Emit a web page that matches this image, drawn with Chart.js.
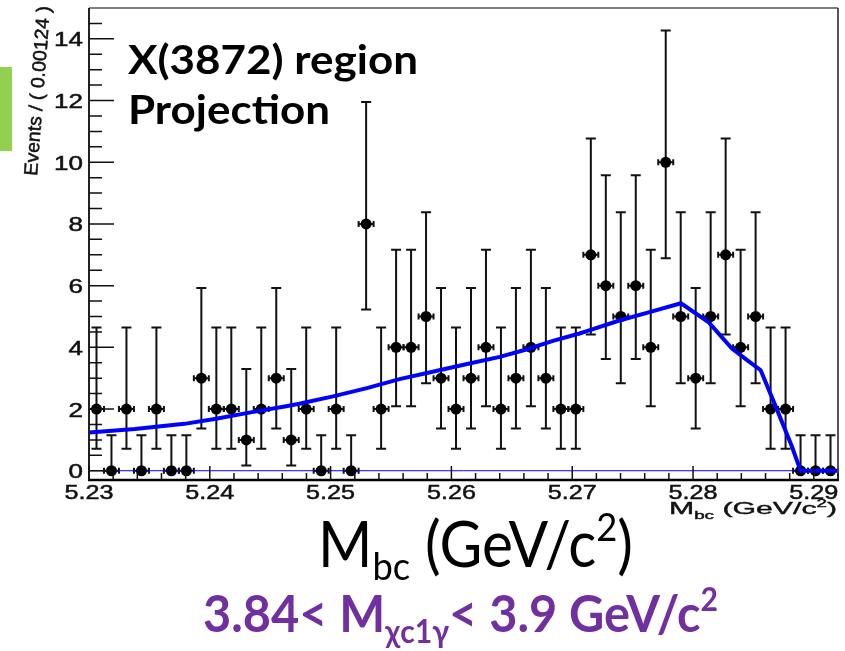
<!DOCTYPE html>
<html>
<head>
<meta charset="utf-8">
<script src="https://cdn.jsdelivr.net/npm/chart.js@4/dist/chart.umd.min.js"></script>
<style>
  html, body { margin: 0; padding: 0; background: #ffffff; }
  canvas { display: block; }
</style>
</head>
<body>
<canvas id="c" width="845" height="651"></canvas>
<script>
// Histogram binning of M_bc (GeV/c^2)
const binStart = 5.23;
const binWidth = 0.00124;

// Events per bin
const counts = [2, 0, 2, 0, 2, 0, 0, 3, 2, 2,
                1, 2, 3, 1, 2, 0, 2, 0, 8, 2,
                4, 4, 5, 3, 2, 3, 4, 2, 3, 4,
                3, 2, 2, 7, 6, 5, 6, 4, 10, 5,
                3, 5, 7, 4, 5, 2, 2, 0, 0, 0];

// Asymmetric Poisson interval bounds, indexed by the bin count
const intervalLow  = [0.00, 0.17, 0.71, 1.37, 2.09, 2.84, 3.62, 4.42, 5.23, 6.05, 6.89];
const intervalHigh = [1.15, 3.30, 4.64, 5.92, 7.16, 8.38, 9.58, 10.77, 11.95, 13.11, 14.27];

// Fitted model projection
const fitX = [5.2300, 5.2338, 5.2379, 5.2404, 5.2435, 5.2462, 5.2474, 5.2502, 5.2530, 5.2557,
              5.2590, 5.2612, 5.2640, 5.2662, 5.2684, 5.2706, 5.2714, 5.2739, 5.2764, 5.2790,
              5.2813, 5.2832, 5.2845, 5.2856, 5.2869, 5.2882, 5.2889, 5.2920];
const fitY = [1.24, 1.35, 1.52, 1.68, 1.90, 2.08, 2.17, 2.41, 2.68, 2.97,
              3.26, 3.45, 3.69, 3.93, 4.21, 4.45, 4.55, 4.87, 5.14, 5.43,
              4.81, 3.97, 3.58, 3.26, 2.03, 0.77, 0.00, 0.00];

// Axis ticks
const xTickLabels = ['5.23', '5.24', '5.25', '5.26', '5.27', '5.28', '5.29'];
const yTickLabels = ['0', '2', '4', '6', '8', '10', '12', '14'];

const xMin = 5.23, xMax = 5.292;
const yMin = -0.3, yMax = 15;

const binCenters = counts.map((_, i) => binStart + (i + 0.5) * binWidth);

const SANS = '"Liberation Sans", Arial, sans-serif';
const HUMANIST = 'Lato, "Open Sans", sans-serif';

// Draws a run of text pieces (normal / subscript / superscript), squeezed to a width
function drawRich(ctx, segs, x, baseline, size, family, weight, color, width, align, outline) {
  let total = 0;
  const small = size * 0.62;
  segs.forEach(s => {
    const sz = (s.sub || s.sup) ? small : size;
    ctx.font = `${weight} ${sz}px ${family}`;
    s.w = ctx.measureText(s.t).width;
    total += s.w;
  });
  const sx = width ? width / total : 1;
  const drawn = total * sx;
  let left = x;
  if (align === 'right') left = x - drawn;
  else if (align === 'center') left = x - drawn / 2;
  ctx.save();
  ctx.translate(left, baseline);
  ctx.scale(sx, 1);
  ctx.fillStyle = color;
  ctx.strokeStyle = color;
  ctx.lineWidth = outline || 0;
  ctx.textBaseline = 'alphabetic';
  ctx.textAlign = 'left';
  let cx = 0;
  segs.forEach(s => {
    const sz = (s.sub || s.sup) ? small : size;
    ctx.font = `${weight} ${sz}px ${family}`;
    let dy = 0;
    if (s.sub) dy = size * (s.subShift || 0.22);
    if (s.sup) dy = -size * 0.42;
    ctx.fillText(s.t, cx, dy);
    if (outline) ctx.strokeText(s.t, cx, dy);
    cx += s.w;
  });
  ctx.restore();
}

// Single text run widened by a fixed horizontal factor
function drawWide(ctx, text, x, baseline, size, sx, align, color) {
  ctx.save();
  ctx.font = `${size}px ${SANS}`;
  const w = ctx.measureText(text).width * sx;
  let left = x;
  if (align === 'right') left = x - w;
  else if (align === 'center') left = x - w / 2;
  ctx.translate(left, baseline);
  ctx.scale(sx, 1);
  ctx.fillStyle = color;
  ctx.strokeStyle = color;
  ctx.lineWidth = 0.5;
  ctx.textAlign = 'left';
  ctx.textBaseline = 'alphabetic';
  ctx.fillText(text, 0, 0);
  ctx.strokeText(text, 0, 0);
  ctx.restore();
}

const errorBars = {
  id: 'errorBars',
  beforeDatasetsDraw(chart) {
    const ctx = chart.ctx;
    const xs = chart.scales.x, ys = chart.scales.y;
    const half = xs.getPixelForValue(binStart + binWidth) - xs.getPixelForValue(binStart);
    ctx.save();
    ctx.strokeStyle = '#111111';
    ctx.lineWidth = 2;
    counts.forEach((n, i) => {
      const px = xs.getPixelForValue(binCenters[i]);
      const py = ys.getPixelForValue(n);
      const lo = ys.getPixelForValue(intervalLow[n]);
      const hi = ys.getPixelForValue(intervalHigh[n]);
      ctx.beginPath();
      ctx.moveTo(px, lo); ctx.lineTo(px, hi);
      ctx.moveTo(px - 5, hi); ctx.lineTo(px + 5, hi);
      if (n > 0) { ctx.moveTo(px - 5, lo); ctx.lineTo(px + 5, lo); }
      // horizontal bin-width bar
      const hw = half / 2;
      ctx.moveTo(px - hw, py); ctx.lineTo(px + hw, py);
      ctx.moveTo(px + hw, py - 3); ctx.lineTo(px + hw, py + 3);
      ctx.moveTo(px - hw, py - 3); ctx.lineTo(px - hw, py + 3);
      ctx.stroke();
    });
    ctx.restore();
  }
};

const frameAndText = {
  id: 'frameAndText',
  afterDatasetsDraw(chart) {
    const ctx = chart.ctx;
    const xs = chart.scales.x, ys = chart.scales.y;
    const a = chart.chartArea;
    ctx.save();

    // frame
    ctx.strokeStyle = '#555555';
    ctx.lineWidth = 1.4;
    ctx.beginPath();
    ctx.moveTo(a.left, a.top); ctx.lineTo(a.right, a.top);
    ctx.stroke();
    ctx.lineWidth = 1.8;
    ctx.strokeStyle = '#444444';
    ctx.beginPath();
    ctx.moveTo(a.right, a.top); ctx.lineTo(a.right, a.bottom);
    ctx.stroke();
    ctx.strokeStyle = '#222222';
    ctx.lineWidth = 2;
    ctx.beginPath();
    ctx.moveTo(a.left, a.top); ctx.lineTo(a.left, a.bottom);
    ctx.stroke();
    ctx.strokeStyle = '#000000';
    ctx.lineWidth = 2.4;
    ctx.beginPath();
    ctx.moveTo(a.left - 1, a.bottom); ctx.lineTo(a.right + 1, a.bottom);
    ctx.stroke();

    // y ticks: major every 2, minor every 0.5
    ctx.strokeStyle = '#111111';
    ctx.lineWidth = 1.5;
    ctx.beginPath();
    for (let k = 0; k <= 29; k++) {
      const v = k * 0.5;
      const py = ys.getPixelForValue(v);
      const len = (k % 4 === 0) ? 25 : 13;
      ctx.moveTo(a.left, py); ctx.lineTo(a.left + len, py);
    }
    // x ticks: major every 0.01, minor every 0.002
    for (let k = 0; k <= 31; k++) {
      const v = 5.23 + k * 0.002;
      const px = xs.getPixelForValue(v);
      const len = (k % 5 === 0) ? 14 : 7;
      ctx.moveTo(px, a.bottom); ctx.lineTo(px, a.bottom - len);
    }
    ctx.stroke();

    // tick labels
    yTickLabels.forEach(l => {
      drawWide(ctx, l, a.left - 6, ys.getPixelForValue(parseFloat(l)) + 7.5, 20, 1.3, 'right', '#111111');
    });
    xTickLabels.forEach(l => {
      drawWide(ctx, l, xs.getPixelForValue(parseFloat(l)), a.bottom + 19, 21, 1.2, 'center', '#111111');
    });

    // y axis title (slightly tilted)
    ctx.save();
    ctx.translate(37, 176);
    ctx.rotate(-85.6 * Math.PI / 180);
    drawRich(ctx, [{ t: 'Events / ( 0.00124 )' }], 0, 0, 19, SANS, 'normal', '#111111', 170, 'left', 0.5);
    ctx.restore();

    // small x axis title
    drawRich(ctx, [{ t: 'M' }, { t: 'bc', sub: true, subShift: 0.3 }, { t: ' (GeV/c' }, { t: '2', sup: true }, { t: ')' }],
      837, a.bottom + 34, 17, SANS, 'normal', '#111111', 168, 'right', 0.4);

    // annotation inside the frame
    drawRich(ctx, [{ t: 'X(3872) region' }], 128, 74, 40, HUMANIST, 'bold', '#000000', 290, 'left');
    drawRich(ctx, [{ t: 'Projection' }], 128, 124, 40, HUMANIST, 'bold', '#000000', 202, 'left');

    // large x axis caption
    drawRich(ctx, [{ t: 'M' }, { t: 'bc', sub: true, subShift: 0.2 }, { t: ' (GeV/c' }, { t: '2', sup: true }, { t: ')' }],
      318, 567, 63, HUMANIST, 'normal', '#000000', 315, 'left');

    // mass window caption
    drawRich(ctx, [{ t: '3.84< M' }, { t: '\u03C7c1\u03B3', sub: true, subShift: 0.22 }, { t: '< 3.9 GeV/c' }, { t: '2', sup: true }],
      203, 632, 51, HUMANIST, 'bold', '#7030A0', 515, 'left');

    ctx.restore();
  }
};

const sideMark = {
  id: 'sideMark',
  beforeDraw(chart) {
    const ctx = chart.ctx;
    ctx.save();
    ctx.fillStyle = '#ffffff';
    ctx.fillRect(0, 0, chart.width, chart.height);
    ctx.fillStyle = '#92D050';
    ctx.fillRect(0, 67, 12, 84);
    ctx.restore();
  }
};

new Chart(document.getElementById('c'), {
  type: 'scatter',
  data: {
    datasets: [
      {
        label: 'fit',
        data: fitX.map((x, i) => ({ x: x, y: fitY[i] })),
        showLine: true,
        borderColor: '#0000ff',
        borderWidth: 4,
        pointRadius: 0,
        tension: 0,
        order: 0
      },
      {
        label: 'data',
        data: binCenters.map((x, i) => ({ x: x, y: counts[i] })),
        showLine: false,
        pointRadius: 5.5,
        pointBackgroundColor: '#000000',
        pointBorderColor: '#000000',
        pointBorderWidth: 0,
        order: 1
      },
      {
        label: 'zero',
        data: [{ x: xMin, y: 0 }, { x: xMax, y: 0 }],
        showLine: true,
        borderColor: '#0000ff',
        borderWidth: 1,
        pointRadius: 0,
        order: 2
      }
    ]
  },
  options: {
    responsive: false,
    animation: false,
    events: [],
    layout: { padding: { left: 89, right: 7, top: 8, bottom: 171 } },
    plugins: { legend: { display: false }, tooltip: { enabled: false } },
    scales: {
      x: { type: 'linear', min: xMin, max: xMax, display: false },
      y: { type: 'linear', min: yMin, max: yMax, display: false }
    }
  },
  plugins: [sideMark, errorBars, frameAndText]
});
</script>
</body>
</html>
